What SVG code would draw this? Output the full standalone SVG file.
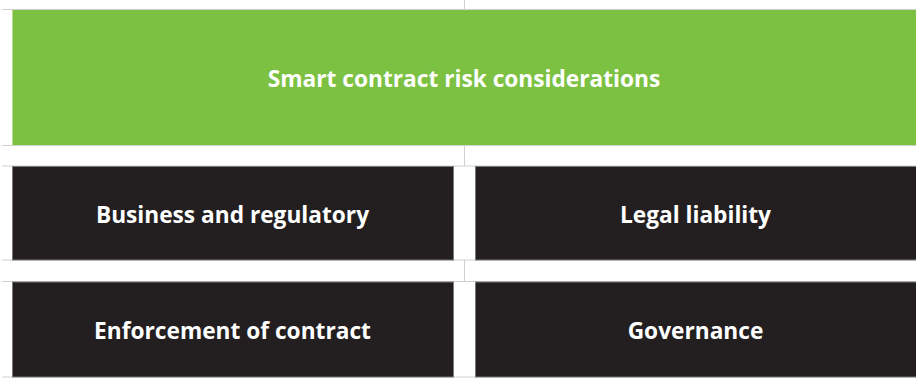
<svg xmlns="http://www.w3.org/2000/svg" width="916" height="378" viewBox="0 0 916 378">
<style>
.t{font-family:"Open Sans","Noto Sans",sans-serif;font-weight:700;font-size:22.7px;fill:#ffffff;text-anchor:middle;dominant-baseline:central}
.g{stroke:#d0d0d0;stroke-width:1;fill:none}
.dk{fill:#231f20;stroke:#7a7a7a;stroke-width:1}
</style>
<rect width="916" height="378" fill="#ffffff"/>
<g id="connectors">
<line class="g" x1="2" y1="9.5" x2="916" y2="9.5"/>
<line class="g" x1="2" y1="145.5" x2="916" y2="145.5"/>
<line class="g" x1="2" y1="166" x2="916" y2="166"/>
<line class="g" x1="2" y1="260" x2="916" y2="260"/>
<line class="g" x1="2" y1="281.5" x2="916" y2="281.5"/>
<line class="g" x1="2" y1="377" x2="916" y2="377"/>
<line class="g" x1="464.5" y1="0" x2="464.5" y2="10"/>
<line class="g" x1="464.5" y1="145" x2="464.5" y2="166"/>
<line class="g" x1="464.5" y1="260" x2="464.5" y2="282"/>
</g>
<g id="title">
<rect x="12" y="10" width="904" height="135" fill="#7dc142"/>
<line x1="12.5" y1="10" x2="12.5" y2="145" stroke="#b5dc8f" stroke-width="1"/>
<text class="t" x="464" y="78">Smart contract risk considerations</text>
</g>
<g id="business">
<rect class="dk" x="12.5" y="166.5" width="441" height="93.5"/>
<text class="t" x="232.5" y="214">Business and regulatory</text>
</g>
<g id="legal">
<rect class="dk" x="475.5" y="166.5" width="441" height="93.5"/>
<text class="t" x="695.5" y="214">Legal liability</text>
</g>
<g id="enforcement">
<rect class="dk" x="12.5" y="282" width="441" height="95"/>
<text class="t" x="232.5" y="330">Enforcement of contract</text>
</g>
<g id="governance">
<rect class="dk" x="475.5" y="282" width="441" height="95"/>
<text class="t" x="695.5" y="330">Governance</text>
</g>
</svg>
